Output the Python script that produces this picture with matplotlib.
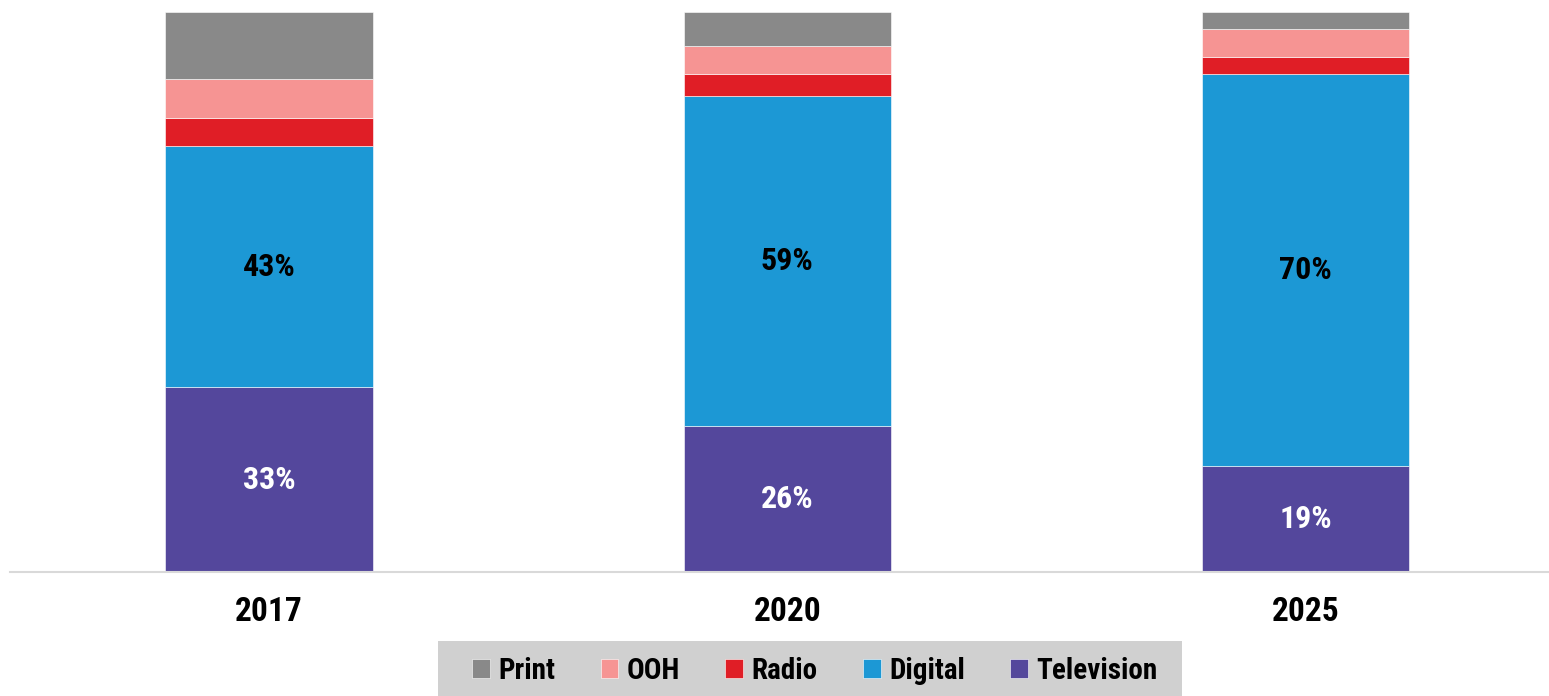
import matplotlib.pyplot as plt
from matplotlib.patches import Rectangle
import numpy as np

# ad spend share by channel (%), stacked bottom to top
years = ['2017', '2020', '2025']
television = [33, 26, 19]
digital = [43, 59, 70]
radio = [5, 4, 3]
ooh = [7, 5, 5]
print_ = [12, 6, 3]

channels = ['Television', 'Digital', 'Radio', 'OOH', 'Print']
colors = ['#54479C', '#1C98D5', '#E01E26', '#F69493', '#898989']

plt.rcParams['font.family'] = ['Roboto Condensed', 'DejaVu Sans']
plt.rcParams['font.weight'] = 'bold'

fig = plt.figure(figsize=(15.49, 6.96), dpi=100)
ax = fig.add_axes([10 / 1549, 124 / 696, 1 - 10 / 1549, 560 / 696])

x = np.arange(len(years))
bottom = np.zeros(len(years))
bars = {}
for name, vals, col in zip(channels, [television, digital, radio, ooh, print_], colors):
    bars[name] = ax.bar(x, vals, 0.4, bottom=bottom, color=col, label=name,
                        edgecolor='white', linewidth=0.4)
    bottom = bottom + np.array(vals)

for rect, v in zip(bars['Television'], television):
    ax.text(rect.get_x() + rect.get_width() / 2, rect.get_y() + rect.get_height() / 2,
            f'{v}%', ha='center', va='center', color='white', fontsize=23, fontweight='bold')
for rect, v in zip(bars['Digital'], digital):
    ax.text(rect.get_x() + rect.get_width() / 2, rect.get_y() + rect.get_height() / 2,
            f'{v}%', ha='center', va='center', color='black', fontsize=23, fontweight='bold')

ax.set_xlim(-0.5, 2.47)
ax.set_ylim(0, 100)
ax.set_xticks(x)
ax.set_xticklabels(years, fontsize=24, fontweight='bold')
ax.tick_params(axis='x', length=0, pad=17)
ax.set_yticks([])
for s in ['top', 'right', 'left']:
    ax.spines[s].set_visible(False)
ax.spines['bottom'].set_color('#D9D9D9')
ax.spines['bottom'].set_linewidth(1.5)

# grey legend band under the axis
fig.patches.append(Rectangle((438 / 1549, 0), (1182 - 438) / 1549, 55 / 696,
                             transform=fig.transFigure, facecolor='#D0D0D0',
                             edgecolor='none', zorder=0))
handles = [bars[n] for n in channels[::-1]]
fig.legend(handles, channels[::-1], loc='center', bbox_to_anchor=(815 / 1549, 25 / 696),
           ncol=5, frameon=False, handlelength=0.6, handleheight=0.6,
           handletextpad=0.3, columnspacing=1.55, prop={'weight': 'bold', 'size': 21})

fig.savefig('out.png', dpi=100)
